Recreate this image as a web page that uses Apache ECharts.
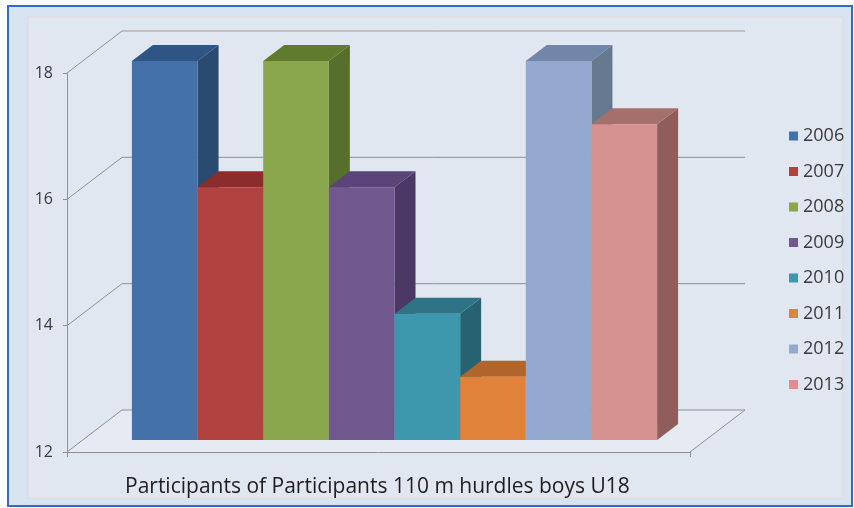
<!DOCTYPE html>
<html>
<head>
<meta charset="utf-8">
<script src="https://cdn.jsdelivr.net/npm/echarts@6/dist/echarts.min.js"></script>
<style>
  html, body { margin: 0; padding: 0; background: #ffffff; }
  #chart { width: 854px; height: 508px; }
</style>
</head>
<body>
<div id="chart"></div>
<script>
// Participants per season
const years = ['2006', '2007', '2008', '2009', '2010', '2011', '2012', '2013'];
const participants = [18, 16, 18, 16, 14, 13, 18, 17];
const yTicks = [12, 14, 16, 18];
const yMin = 12, yMax = 18, yStep = 2;

// Face colours for each year's block: front, top, right side
const frontColors = ['#4471a9', '#b1423f', '#8aa74e', '#71588f', '#3d97ad', '#e0823a', '#93a9cf', '#d69291'];
const topColors   = ['#2f5586', '#8c2d2b', '#5f7b2d', '#5a4478', '#2e7486', '#b0652a', '#7186a8', '#a56f6c'];
const sideColors  = ['#2b4a70', '#7a2725', '#576f2c', '#4c3866', '#266272', '#96552a', '#66798f', '#8f5e5c'];

// Oblique projection offsets (px)
const DEPTH = [55, -42];      // full floor depth
const BAR_FRONT = [16, -12];  // front face of the blocks
const BAR_DEPTH = [21, -16];  // thickness of each block
const GROUP_SHARE = 0.843;    // share of the category taken by the blocks

const chart = echarts.init(document.getElementById('chart'));

function renderBar(idx) {
  return function (params, api) {
    const base = api.coord([0, yMin]);
    const top = api.coord([api.value(0), api.value(1)]);
    const catW = api.size([1, 0])[0];
    const groupW = catW * GROUP_SHARE;
    const w = groupW / years.length;
    const x0 = base[0] - groupW / 2 + idx * w + BAR_FRONT[0];
    const x1 = x0 + w;
    const yT = top[1] + BAR_FRONT[1];
    const yB = base[1] + BAR_FRONT[1];
    const dx = BAR_DEPTH[0], dy = BAR_DEPTH[1];
    return {
      type: 'group',
      children: [
        { type: 'polygon', shape: { points: [[x1, yT], [x1 + dx, yT + dy], [x1 + dx, yB + dy], [x1, yB]] },
          style: { fill: sideColors[idx] } },
        { type: 'polygon', shape: { points: [[x0, yT], [x1, yT], [x1 + dx, yT + dy], [x0 + dx, yT + dy]] },
          style: { fill: topColors[idx] } },
        { type: 'rect', shape: { x: x0, y: yT, width: w, height: yB - yT },
          style: { fill: frontColors[idx] } }
      ]
    };
  };
}

// Side wall diagonals, back wall gridlines and the floor
function renderWalls(params, api) {
  const cs = params.coordSys;
  const p = api.coord([0, api.value(1)]);
  const xl = cs.x, xr = cs.x + cs.width, y = p[1];
  const children = [];
  if (api.value(1) === yMin) {
    children.push({ type: 'polygon',
      shape: { points: [[xl, y], [xr, y], [xr + DEPTH[0], y + DEPTH[1]], [xl + DEPTH[0], y + DEPTH[1]]] },
      style: { fill: '#e6ebf3' } });
    children.push({ type: 'line', shape: { x1: xr, y1: y, x2: xr + DEPTH[0], y2: y + DEPTH[1] },
      style: { stroke: '#8d9096', lineWidth: 1 } });
  }
  children.push({ type: 'line', shape: { x1: xl, y1: y, x2: xl + DEPTH[0], y2: y + DEPTH[1] },
    style: { stroke: '#8d9096', lineWidth: 1 } });
  children.push({ type: 'line', shape: { x1: xl + DEPTH[0], y1: y + DEPTH[1], x2: xr + DEPTH[0], y2: y + DEPTH[1] },
    style: { stroke: api.value(1) === yMax ? '#a89a94' : '#8d9096', lineWidth: 1 } });
  return { type: 'group', children: children };
}

const series = years.map(function (yr, i) {
  return {
    name: yr,
    type: 'custom',
    z: 3,
    itemStyle: { color: frontColors[i] },
    encode: { x: 0, y: 1 },
    renderItem: renderBar(i),
    data: [[0, participants[i]]]
  };
});
series.unshift({
  name: 'walls',
  type: 'custom',
  z: 1,
  silent: true,
  encode: { x: 0, y: 1 },
  renderItem: renderWalls,
  data: yTicks.map(function (t) { return [0, t]; })
});

chart.setOption({
  animation: false,
  textStyle: { fontFamily: '"Open Sans", sans-serif' },
  graphic: [
    { type: 'rect', z: -10, shape: { x: 8, y: 6, width: 844, height: 500 },
      style: { fill: '#d9e4f3', stroke: '#2d6fc6', lineWidth: 2 } },
    { type: 'rect', z: -9, shape: { x: 28, y: 17, width: 815, height: 481 },
      style: { fill: '#e1e7f1', stroke: '#e3d8dc', lineWidth: 1 } }
  ],
  title: {
    text: 'Participants of Participants 110 m hurdles boys U18',
    left: 125, top: 477,
    padding: 0,
    textStyle: { fontSize: 21, fontWeight: 'normal', color: '#1e1e1e', fontFamily: '"Open Sans", sans-serif' }
  },
  legend: {
    data: years,
    orient: 'vertical',
    left: 789, top: 126,
    padding: 0,
    icon: 'rect',
    itemWidth: 9, itemHeight: 9,
    itemGap: 15.5,
    textStyle: { fontSize: 18, lineHeight: 20, color: '#3a3a3a' }
  },
  grid: { left: 67, right: 164, top: 73, bottom: 56, containLabel: false },
  xAxis: {
    type: 'category',
    data: [''],
    boundaryGap: true,
    axisLine: { show: true, lineStyle: { color: '#8d9096' } },
    axisTick: { show: true, length: 5, lineStyle: { color: '#8d9096' } },
    axisLabel: { show: false },
    splitLine: { show: false }
  },
  yAxis: {
    type: 'value',
    min: yMin, max: yMax, interval: yStep,
    axisLine: { show: true, lineStyle: { color: '#8d9096' } },
    axisTick: { show: true, length: 4, lineStyle: { color: '#8d9096' } },
    axisLabel: { fontSize: 16, color: '#3a3a3a', margin: 14 },
    splitLine: { show: false }
  },
  series: series
});
</script>
</body>
</html>
